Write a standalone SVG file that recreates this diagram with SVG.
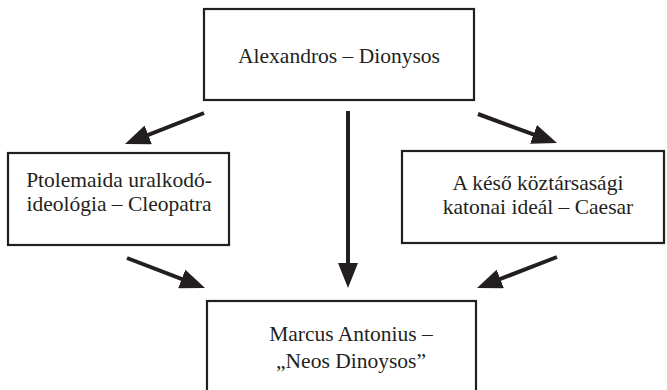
<svg xmlns="http://www.w3.org/2000/svg" width="667" height="390" viewBox="0 0 667 390">
<defs>
<style>
.box{fill:#fff;stroke:#231f20;stroke-width:2.2}
.t{font-family:"Liberation Serif","Times New Roman",serif;font-size:21.5px;fill:#231f20;text-anchor:middle}
.c{stroke:#231f20;stroke-width:4;fill:none}
</style>
<marker id="ah" viewBox="0 0 25 20" refX="15" refY="10" markerUnits="userSpaceOnUse" markerWidth="25" markerHeight="20" orient="auto">
<path d="M0,0 L25,10 L0,20 Z" fill="#231f20"/>
</marker>
</defs>
<rect width="667" height="390" fill="#fff"/>
<g id="connectors">
<line class="c" x1="204" y1="113" x2="134.3" y2="140.3" marker-end="url(#ah)"/>
<line class="c" x1="478" y1="114" x2="547.6" y2="139.6" marker-end="url(#ah)"/>
<line class="c" x1="348" y1="111" x2="348" y2="278" marker-end="url(#ah)"/>
<line class="c" x1="127" y1="258" x2="195.7" y2="284.4" marker-end="url(#ah)"/>
<line class="c" x1="557" y1="257" x2="486.3" y2="284.4" marker-end="url(#ah)"/>
</g>
<g id="n1">
<rect class="box" x="204" y="9" width="270" height="91"/>
<text class="t" x="339" y="63">Alexandros – Dionysos</text>
</g>
<g id="n2">
<rect class="box" x="8" y="153" width="221" height="92"/>
<text class="t" x="119" y="187">Ptolemaida uralkodó-</text>
<text class="t" x="119" y="211">ideológia – Cleopatra</text>
</g>
<g id="n3">
<rect class="box" x="402" y="151" width="262" height="92"/>
<text class="t" x="538" y="190">A késő köztársasági</text>
<text class="t" x="538" y="214">katonai ideál – Caesar</text>
</g>
<g id="n4">
<rect class="box" x="207" y="301" width="269" height="95"/>
<text class="t" x="351" y="341">Marcus Antonius –</text>
<text class="t" x="351" y="368">„Neos Dinoysos”</text>
</g>
</svg>
